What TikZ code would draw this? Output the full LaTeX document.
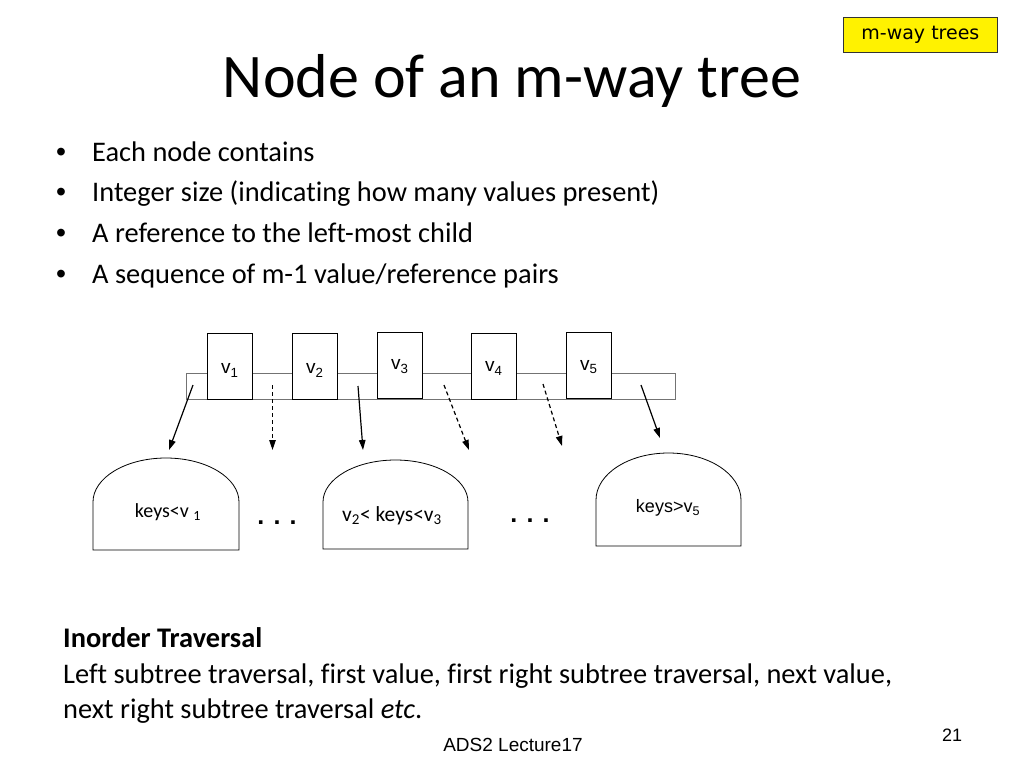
\documentclass[tikz,border=0pt]{standalone}
\usepackage{fontspec}
\setmainfont{Carlito}[Ligatures=CommonOff]
\newfontfamily\arial{Liberation Sans}
\newfontfamily\tagfont{DejaVu Sans}
\usetikzlibrary{arrows.meta}
\begin{document}
\begin{tikzpicture}[x=1pt,y=-1pt,
  celltxt/.style={inner sep=0pt, font=\arial\fontsize{19}{22}\selectfont},
  cellbox/.style={draw=black, line width=0.8pt, fill=white, minimum width=45pt, minimum height=66pt, anchor=north west, inner sep=0pt},
  ptr/.style={-{Triangle[length=10pt,width=6.5pt]}, line width=1.2pt},
  dptr/.style={ptr, dash pattern=on 4pt off 3pt},
  dome/.style={draw=black, line width=0.8pt},
  bullettxt/.style={anchor=base west, inner sep=0pt, font=\fontsize{28.4}{34}\selectfont},
  bulletdot/.style={anchor=base west, inner sep=0pt, font=\arial\fontsize{28.4}{34}\selectfont},
  bodytxt/.style={anchor=base west, inner sep=0pt, font=\fontsize{28.4}{34}\selectfont},
  dots/.style={inner sep=0pt, font=\arial\bfseries\fontsize{25}{30}\selectfont}
]
\useasboundingbox (0,0) rectangle (1024,768);
\fill[white] (0,0) rectangle (1024,768);

% tag box
\node[draw=black!80, line width=0.8pt, fill=yellow, minimum width=154pt, minimum height=35pt, anchor=north west, inner sep=0pt,
      font=\tagfont\fontsize{19}{22}\selectfont] (tag) at (843,17) {m-way trees};

% title
\node[anchor=base, inner sep=0pt, font=\fontsize{62}{74}\selectfont] (title) at (512,97) {Node of an m-way tree};

% bullets
\foreach \y/\t [count=\i] in {161/{Each node contains},
  201/{Integer size (indicating how many values present)},
  242/{A reference to the left-most child},
  283/{A sequence of m-1 value/reference pairs}}{
  \node[bulletdot] (bul\i) at (56,\y) {\textbullet};
  \node[bullettxt] (item\i) at (92,\y) {\t};
}

% node strip
\node[draw=black!55, line width=0.8pt, minimum width=489pt, minimum height=26pt, anchor=north west, inner sep=0pt] (strip) at (186,373) {};
\node[cellbox] (c1) at (207,333) {};
\node[cellbox] (c2) at (292,333) {};
\node[cellbox] (c3) at (377,332) {};
\node[cellbox] (c4) at (471,333) {};
\node[cellbox] (c5) at (566,332) {};
\node[celltxt, yshift=-4pt] (l1) at (c1.center) {v\textsubscript{1}};
\node[celltxt, yshift=-4pt] (l2) at (c2.center) {v\textsubscript{2}};
\node[celltxt, yshift=-1pt] (l3) at (c3.center) {v\textsubscript{3}};
\node[celltxt, yshift=-2pt] (l4) at (c4.center) {v\textsubscript{4}};
\node[celltxt, yshift=-2pt] (l5) at (c5.center) {v\textsubscript{5}};

% child subtrees
\draw[dome] (93,550) -- (93,502) arc[start angle=180,end angle=360,x radius=73,y radius=44] -- (239,550) -- cycle;
\draw[dome] (323,549) -- (323,502) arc[start angle=180,end angle=360,x radius=72.5,y radius=42] -- (468,549) -- cycle;
\draw[dome] (596,546) -- (596,500) arc[start angle=180,end angle=360,x radius=72.5,y radius=47] -- (741,546) -- cycle;

\node[inner sep=0pt, font=\fontsize{20}{24}\selectfont] (t1) at (168,512) {keys<v \textsubscript{1}};
\node[inner sep=0pt, font=\fontsize{21.5}{24}\selectfont] (t2) at (392,516) {v\textsubscript{2}< keys<v\textsubscript{3}};
\node[inner sep=0pt, font=\arial\fontsize{18}{22}\selectfont] (t3) at (668,508) {keys>v\textsubscript{5}};

\node[dots] (d1) at (277,523) {. . .};
\node[dots] (d2) at (530,521) {. . .};

% pointers
\coordinate (s1) at (193,385); \coordinate (e1) at (169,450);
\coordinate (s2) at (272.5,385); \coordinate (e2) at (272.5,450);
\coordinate (s3) at (358,386); \coordinate (e3) at (363,450);
\coordinate (s4) at (444,385); \coordinate (e4) at (469,450);
\coordinate (s5) at (543,384); \coordinate (e5) at (562,446);
\coordinate (s6) at (641,385); \coordinate (e6) at (660,438);
\draw[ptr] (s1) -- (e1);
\draw[dptr] (s2) -- (e2);
\draw[ptr] (s3) -- (e3);
\draw[dptr] (s4) -- (e4);
\draw[dptr] (s5) -- (e5);
\draw[ptr] (s6) -- (e6);

% bottom text
\node[bodytxt, font=\bfseries\fontsize{28.4}{34}\selectfont] (inh) at (63,647) {Inorder Traversal};
\node[bodytxt] (in1) at (63,683) {Left subtree traversal, first value, first right subtree traversal, next value,};
\node[bodytxt] (in2) at (63,718) {next right subtree traversal \textit{etc}.};

% footer
\node[anchor=base, inner sep=0pt, font=\arial\fontsize{19}{22}\selectfont] (foot) at (513,751) {ADS2 Lecture17};
\node[anchor=base, inner sep=0pt, font=\arial\fontsize{18}{22}\selectfont] (pg) at (952,741) {21};
\end{tikzpicture}
\end{document}
